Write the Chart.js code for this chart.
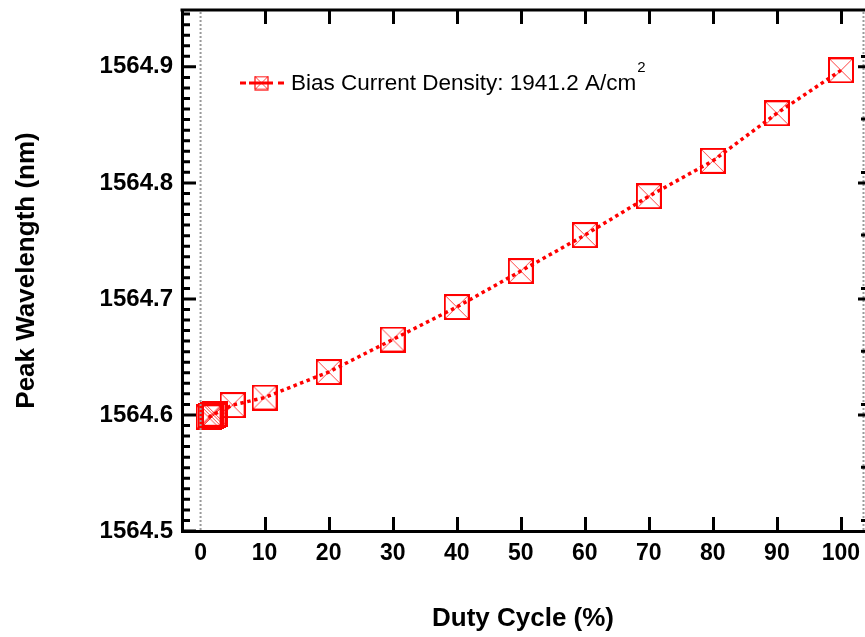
<!DOCTYPE html>
<html>
<head>
<meta charset="utf-8">
<script src="https://cdn.jsdelivr.net/npm/chart.js@4.4.0/dist/chart.umd.min.js"></script>
<style>
  html, body { margin: 0; padding: 0; background: #fff; }
  canvas { display: block; }
</style>
</head>
<body>
<canvas id="chart" width="865" height="637"></canvas>
<script>
// duty cycle (%) vs. peak wavelength (nm)
const dutyCycle = [1.25, 1.6, 2, 2.25, 5, 10, 20, 30, 40, 50, 60, 70, 80, 90, 100];
const peakWavelength = [
  1564.598, 1564.599, 1564.600, 1564.601, 1564.6085, 1564.615, 1564.637, 1564.665,
  1564.693, 1564.724, 1564.755, 1564.7885, 1564.819, 1564.860, 1564.897,
];
const xTicks = [0, 10, 20, 30, 40, 50, 60, 70, 80, 90, 100];
const yTicks = [1564.5, 1564.6, 1564.7, 1564.8, 1564.9];
const rightMinorTicks = [1564.509, 1564.555, 1564.609, 1564.655, 1564.709, 1564.755, 1564.809, 1564.855, 1564.909];
const seriesName = 'Bias Current Density: 1941.2 A/cm';
const seriesSup = '2';

const FONT = "'Liberation Sans', Arial, sans-serif";
const RED = '#ff0000';

// square-with-cross marker
function makeMarker(size) {
  const c = document.createElement('canvas');
  c.width = size;
  c.height = size;
  const g = c.getContext('2d');
  g.strokeStyle = 'rgba(255,0,0,0.75)';
  g.lineWidth = 1;
  g.beginPath();
  g.moveTo(1, 1); g.lineTo(size - 1, size - 1);
  g.moveTo(size - 1, 1); g.lineTo(1, size - 1);
  g.stroke();
  g.strokeStyle = RED;
  g.lineWidth = size > 16 ? 2 : 1.2;
  g.strokeRect(1, 1, size - 2, size - 2);
  return c;
}
const marker = makeMarker(26);
const legendMarker = makeMarker(15);

const points = dutyCycle.map((d, i) => ({ x: d, y: peakWavelength[i] }));

// labels may hang past the plot edges, don't shrink the plot for them
function noLabelPadding(s) {
  s.paddingLeft = 0;
  s.paddingRight = 0;
  s.paddingTop = 0;
  s.paddingBottom = 0;
}

// inward tick marks, frame lines, reference lines and the legend
const framePlugin = {
  id: 'frame',
  afterDraw(c) {
    const ctx = c.ctx;
    const a = c.chartArea;
    const xs = c.scales.x;
    const ys = c.scales.y;
    ctx.save();

    // dotted verticals at x = 0 and on the right edge
    ctx.strokeStyle = '#9a9a9a';
    ctx.lineWidth = 2;
    ctx.setLineDash([2, 2]);
    const x0 = xs.getPixelForValue(0);
    ctx.beginPath();
    ctx.moveTo(x0, a.top + 2);
    ctx.lineTo(x0, a.bottom - 1);
    ctx.moveTo(a.right - 0.5, a.top + 2);
    ctx.lineTo(a.right - 0.5, a.bottom);
    ctx.stroke();
    ctx.setLineDash([]);

    ctx.strokeStyle = '#000';
    ctx.lineWidth = 3;
    ctx.beginPath();
    // top frame line
    ctx.moveTo(a.left - 1.5, a.top);
    ctx.lineTo(c.width, a.top);
    // x ticks, bottom and top
    xTicks.forEach((v) => {
      if (v === 0) return;
      const px = Math.round(xs.getPixelForValue(v)) + 0.5;
      ctx.moveTo(px, a.bottom);
      ctx.lineTo(px, a.bottom - 14);
      ctx.moveTo(px, a.top);
      ctx.lineTo(px, a.top + 14);
    });
    // left y ticks: majors with eleven minor steps between
    yTicks.forEach((v) => {
      const py = ys.getPixelForValue(v);
      ctx.moveTo(a.left, py);
      ctx.lineTo(a.left + 14, py);
      for (let k = 1; k < 11; k++) {
        const m = v + k * 0.1 / 11;
        if (m > ys.max) break;
        const pm = ys.getPixelForValue(m);
        ctx.moveTo(a.left, pm);
        ctx.lineTo(a.left + 8, pm);
      }
    });
    // right edge ticks
    yTicks.forEach((v) => {
      if (v === ys.min) return;
      const py = ys.getPixelForValue(v);
      ctx.moveTo(c.width, py);
      ctx.lineTo(c.width - 7, py);
    });
    rightMinorTicks.forEach((v) => {
      const py = ys.getPixelForValue(v);
      ctx.moveTo(c.width, py);
      ctx.lineTo(c.width - 4, py);
    });
    ctx.stroke();

    // legend: dash, marker, dash
    const ly = 83;
    ctx.strokeStyle = RED;
    ctx.lineWidth = 3;
    ctx.beginPath();
    ctx.moveTo(240, ly); ctx.lineTo(246, ly);
    ctx.moveTo(249, ly); ctx.lineTo(273, ly);
    ctx.moveTo(278, ly); ctx.lineTo(284, ly);
    ctx.stroke();
    ctx.drawImage(legendMarker, 254, ly - 7.5);
    ctx.fillStyle = '#000';
    ctx.textBaseline = 'alphabetic';
    ctx.textAlign = 'left';
    ctx.font = '22.5px ' + FONT;
    ctx.fillText(seriesName, 291, 90);
    const w = ctx.measureText(seriesName).width;
    ctx.font = '15px ' + FONT;
    ctx.fillText(seriesSup, 291 + w + 1, 72);

    ctx.restore();
  },
};

new Chart(document.getElementById('chart'), {
  type: 'line',
  data: {
    datasets: [{
      label: seriesName + seriesSup,
      data: points,
      borderColor: RED,
      borderWidth: 3.5,
      borderDash: [3.5, 3.5],
      fill: false,
      tension: 0,
      pointStyle: marker,
      pointRadius: 13,
      pointHoverRadius: 13,
    }],
  },
  options: {
    responsive: false,
    devicePixelRatio: 1,
    animation: false,
    events: [],
    layout: {
      autoPadding: false,
      padding: { top: 10, right: 1, bottom: 0, left: 0 },
    },
    scales: {
      x: {
        type: 'linear',
        min: -2.9,
        max: 103.6,
        afterBuildTicks: (s) => { s.ticks = xTicks.map((v) => ({ value: v })); },
        afterFit: (s) => { s.height = 106; noLabelPadding(s); },
        grid: { display: false, drawTicks: false },
        border: { display: true, color: '#000', width: 3 },
        ticks: {
          padding: 9,
          color: '#000',
          font: { family: FONT, size: 23, weight: 'bold' },
          maxRotation: 0,
        },
        title: {
          display: true,
          text: 'Duty Cycle (%)',
          color: '#000',
          font: { family: FONT, size: 26, weight: 'bold' },
          padding: { top: 0, bottom: 3 },
        },
      },
      y: {
        type: 'linear',
        min: 1564.5,
        max: 1564.949,
        afterBuildTicks: (s) => { s.ticks = yTicks.map((v) => ({ value: v })); },
        afterFit: (s) => { s.width = 182; noLabelPadding(s); },
        grid: { display: false, drawTicks: false },
        border: { display: true, color: '#000', width: 3 },
        ticks: {
          padding: 9,
          color: '#000',
          font: { family: FONT, size: 24, weight: 'bold' },
          callback: (v) => Number(v).toFixed(1),
        },
        title: {
          display: true,
          text: 'Peak Wavelength (nm)',
          color: '#000',
          font: { family: FONT, size: 26, weight: 'bold' },
          padding: { top: 11, bottom: 0 },
        },
      },
    },
    plugins: {
      legend: { display: false },
      tooltip: { enabled: false },
    },
  },
  plugins: [framePlugin],
});
</script>
</body>
</html>
